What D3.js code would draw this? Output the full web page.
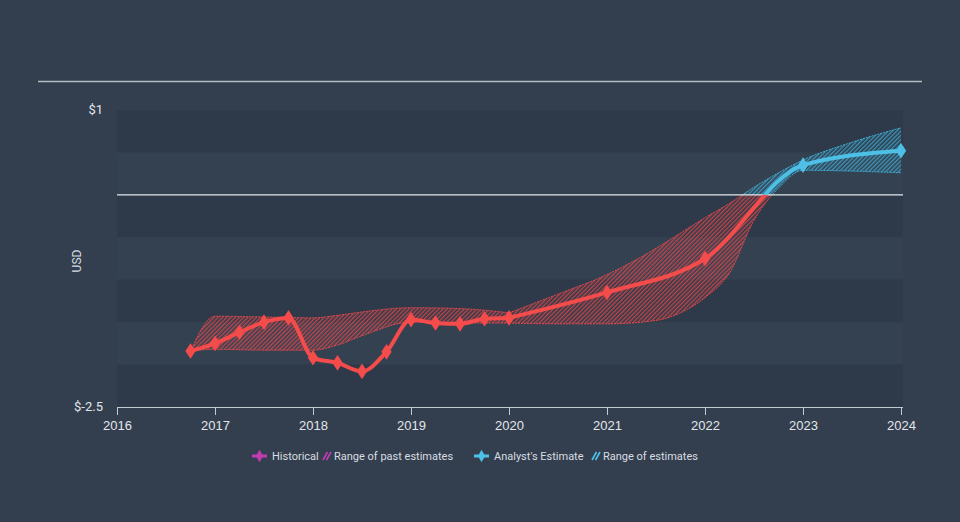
<!DOCTYPE html>
<html>
<head>
<meta charset="utf-8">
<script src="https://cdn.jsdelivr.net/npm/d3@7"></script>
<style>
  html, body { margin: 0; padding: 0; background: #333f4e; }
  svg { display: block; font-family: Roboto, "Liberation Sans", sans-serif; }
</style>
</head>
<body>
<svg id="canvas" width="960" height="522"></svg>
<script>
// historical EPS (quarterly)
let histYears = [2016.75, 2017, 2017.25, 2017.5, 2017.75, 2018, 2018.25, 2018.5, 2018.75, 2019, 2019.25, 2019.5, 2019.75, 2020]
let histValues = [-1.84, -1.75, -1.62, -1.50, -1.45, -1.92, -1.98, -2.08, -1.85, -1.47, -1.51, -1.52, -1.46, -1.45]

// range of past estimates
let pastYears = [2016.75, 2017, 2017.5, 2018, 2018.25, 2018.5, 2019, 2019.5, 2020]
let pastHigh = [-1.84, -1.43, -1.44, -1.45, -1.42, -1.38, -1.33, -1.34, -1.39]
let pastLow = [-1.84, -1.82, -1.83, -1.83, -1.77, -1.66, -1.50, -1.51, -1.51]

// analyst estimate
let estYears = [2020, 2021, 2022, 2023, 2024]
let estValues = [-1.45, -1.15, -0.75, 0.35, 0.52]

// range of estimates
let rangeYears = [2020, 2020.5, 2021, 2021.5, 2021.75, 2022, 2022.25, 2022.5, 2022.75, 2023, 2023.5, 2024]
let rangeHigh = [-1.39, -1.17, -0.94, -0.63, -0.45, -0.27, -0.10, 0.09, 0.26, 0.41, 0.62, 0.79]
let rangeLow = [-1.51, -1.52, -1.52, -1.48, -1.39, -1.21, -0.92, -0.30, 0.08, 0.29, 0.28, 0.26]

let xTicks = [2016, 2017, 2018, 2019, 2020, 2021, 2022, 2023, 2024]
let yTicks = [1, -2.5]

let red = '#f44b4b'
let blue = '#4ec0e6'
let magenta = '#c23bb5'

let canvas = d3.select('#canvas')

let plotLeft = 117, plotRight = 903, plotTop = 110, plotBottom = 407

let xScale = d3.scaleLinear().domain([2016, 2024]).range([117, 901])
let yScale = d3.scaleLinear().domain([-2.5, 1]).range([plotBottom, plotTop])

canvas.append('rect').attr('width', 960).attr('height', 522).attr('fill', '#333f4e')

let defs = canvas.append('defs')

let makeHatch = (id, color) => {
  let p = defs.append('pattern')
    .attr('id', id)
    .attr('patternUnits', 'userSpaceOnUse')
    .attr('width', 3).attr('height', 3)
    .attr('patternTransform', 'rotate(45)')
  p.append('line')
    .attr('x1', 0.75).attr('y1', 0).attr('x2', 0.75).attr('y2', 3)
    .attr('stroke', color).attr('stroke-width', 1.2).attr('stroke-opacity', 0.9)
}
makeHatch('hatchRed', '#e5484b')
makeHatch('hatchBlue', '#3fb0d6')

// clip areas by sign of value
defs.append('clipPath').attr('id', 'clipNeg')
  .append('rect').attr('x', plotLeft).attr('y', yScale(0)).attr('width', plotRight - plotLeft + 10).attr('height', plotBottom - yScale(0))
defs.append('clipPath').attr('id', 'clipPos')
  .append('rect').attr('x', plotLeft).attr('y', plotTop - 10).attr('width', plotRight - plotLeft + 10).attr('height', yScale(0) - plotTop + 10)

// top rule
canvas.append('line')
  .attr('x1', 38).attr('x2', 922).attr('y1', 81.5).attr('y2', 81.5)
  .attr('stroke', '#b4bbc2').attr('stroke-width', 1.5)

// stripes
let stripeEdges = d3.range(1, -2.5, -0.5)
canvas.selectAll('.stripe')
  .data(stripeEdges)
  .enter()
  .append('rect')
  .attr('class', 'stripe')
  .attr('x', plotLeft)
  .attr('width', plotRight - plotLeft)
  .attr('y', (v) => yScale(v))
  .attr('height', (v) => yScale(v - 0.5) - yScale(v))
  .attr('fill', (v, i) => i % 2 === 0 ? '#2e3a49' : '#344151')

// ranges
let areaGen = d3.area()
  .x((d) => xScale(d[0]))
  .y0((d) => yScale(d[1]))
  .y1((d) => yScale(d[2]))
  .curve(d3.curveMonotoneX)

let edgeGen = (idx) => d3.line()
  .x((d) => xScale(d[0]))
  .y((d) => yScale(d[idx]))
  .curve(d3.curveMonotoneX)

let pastRows = pastYears.map((yr, i) => [yr, pastLow[i], pastHigh[i]])
let futureRows = rangeYears.map((yr, i) => [yr, rangeLow[i], rangeHigh[i]])

let drawRange = (rows) => {
  [['clipNeg', 'hatchRed', '#e5484b'], ['clipPos', 'hatchBlue', '#3fb0d6']].forEach((c) => {
    let g = canvas.append('g').attr('clip-path', 'url(#' + c[0] + ')')
    g.append('path').datum(rows).attr('d', areaGen).attr('fill', 'url(#' + c[1] + ')')
    ;[1, 2].forEach((k) => {
      g.append('path').datum(rows).attr('d', edgeGen(k))
        .attr('fill', 'none').attr('stroke', c[2]).attr('stroke-width', 1)
        .attr('stroke-dasharray', '2,1')
    })
  })
}
drawRange(pastRows)
drawRange(futureRows)

// zero line
canvas.append('line')
  .attr('x1', plotLeft).attr('x2', plotRight).attr('y1', yScale(0)).attr('y2', yScale(0))
  .attr('stroke', '#e4e8ec').attr('stroke-width', 1.2)

// lines
let lineGen = d3.line()
  .x((d) => xScale(d[0]))
  .y((d) => yScale(d[1]))
  .curve(d3.curveMonotoneX)

let histRows = histYears.map((yr, i) => [yr, histValues[i]])
let estRows = estYears.map((yr, i) => [yr, estValues[i]])

let drawLine = (rows) => {
  [['clipNeg', red], ['clipPos', blue]].forEach((c) => {
    canvas.append('g').attr('clip-path', 'url(#' + c[0] + ')')
      .append('path').datum(rows).attr('d', lineGen)
      .attr('fill', 'none').attr('stroke', c[1]).attr('stroke-width', 4)
      .attr('stroke-linejoin', 'round').attr('stroke-linecap', 'round')
  })
}
drawLine(histRows)
drawLine(estRows)

let diamond = d3.symbol().type(d3.symbolDiamond).size(70)
canvas.selectAll('.marker')
  .data(histRows.concat(estRows.slice(1)))
  .enter()
  .append('path')
  .attr('class', 'marker')
  .attr('d', diamond)
  .attr('transform', (d) => 'translate(' + xScale(d[0]) + ',' + yScale(d[1]) + ') scale(1.15,1)')
  .attr('fill', (d) => d[1] < 0 ? red : blue)

// x axis
let xAxis = d3.axisBottom(xScale).tickValues(xTicks).tickFormat(d3.format('d')).tickSizeOuter(0).tickSize(8)
let xg = canvas.append('g').attr('transform', 'translate(0,' + plotBottom + ')').call(xAxis)
xg.select('.domain').attr('stroke', '#c3cad1').attr('d', 'M' + plotLeft + ',0.5H' + plotRight)
xg.selectAll('.tick line').attr('stroke', '#c3cad1')
xg.selectAll('.tick text').attr('fill', '#e2e6ea').attr('font-size', 13).attr('dy', '0.95em')

// y labels
canvas.selectAll('.ylab')
  .data(yTicks)
  .enter()
  .append('text')
  .attr('class', 'ylab')
  .attr('x', 103)
  .attr('y', (v) => yScale(v) + 4)
  .attr('text-anchor', 'end')
  .attr('font-size', 13)
  .attr('fill', '#e2e6ea')
  .text((v) => '$' + v)

canvas.append('text')
  .attr('transform', 'translate(81,261) rotate(-90)')
  .attr('text-anchor', 'middle')
  .attr('font-size', 12)
  .attr('fill', '#d6dbe0')
  .text('USD')

// legend
let legend = canvas.append('g').attr('font-size', 11).attr('fill', '#d8dde2')
let ly = 456

let legendLine = (x, color) => {
  legend.append('line').attr('x1', x).attr('x2', x + 15).attr('y1', ly).attr('y2', ly)
    .attr('stroke', color).attr('stroke-width', 3)
  legend.append('path').attr('d', d3.symbol().type(d3.symbolDiamond).size(45))
    .attr('transform', 'translate(' + (x + 7.5) + ',' + ly + ')').attr('fill', color)
}
let legendHatch = (x, color) => {
  ;[0, 3.5].forEach((o) => {
    legend.append('line')
      .attr('x1', x + o).attr('y1', ly + 4).attr('x2', x + o + 4.5).attr('y2', ly - 4)
      .attr('stroke', color).attr('stroke-width', 1.6)
  })
}

legendLine(252, magenta)
legend.append('text').attr('x', 272).attr('y', ly + 4).text('Historical')
legendHatch(323, magenta)
legend.append('text').attr('x', 334).attr('y', ly + 4).text('Range of past estimates')
legendLine(474, blue)
legend.append('text').attr('x', 494).attr('y', ly + 4).text("Analyst's Estimate")
legendHatch(592, blue)
legend.append('text').attr('x', 603).attr('y', ly + 4).text('Range of estimates')
</script>
</body>
</html>
